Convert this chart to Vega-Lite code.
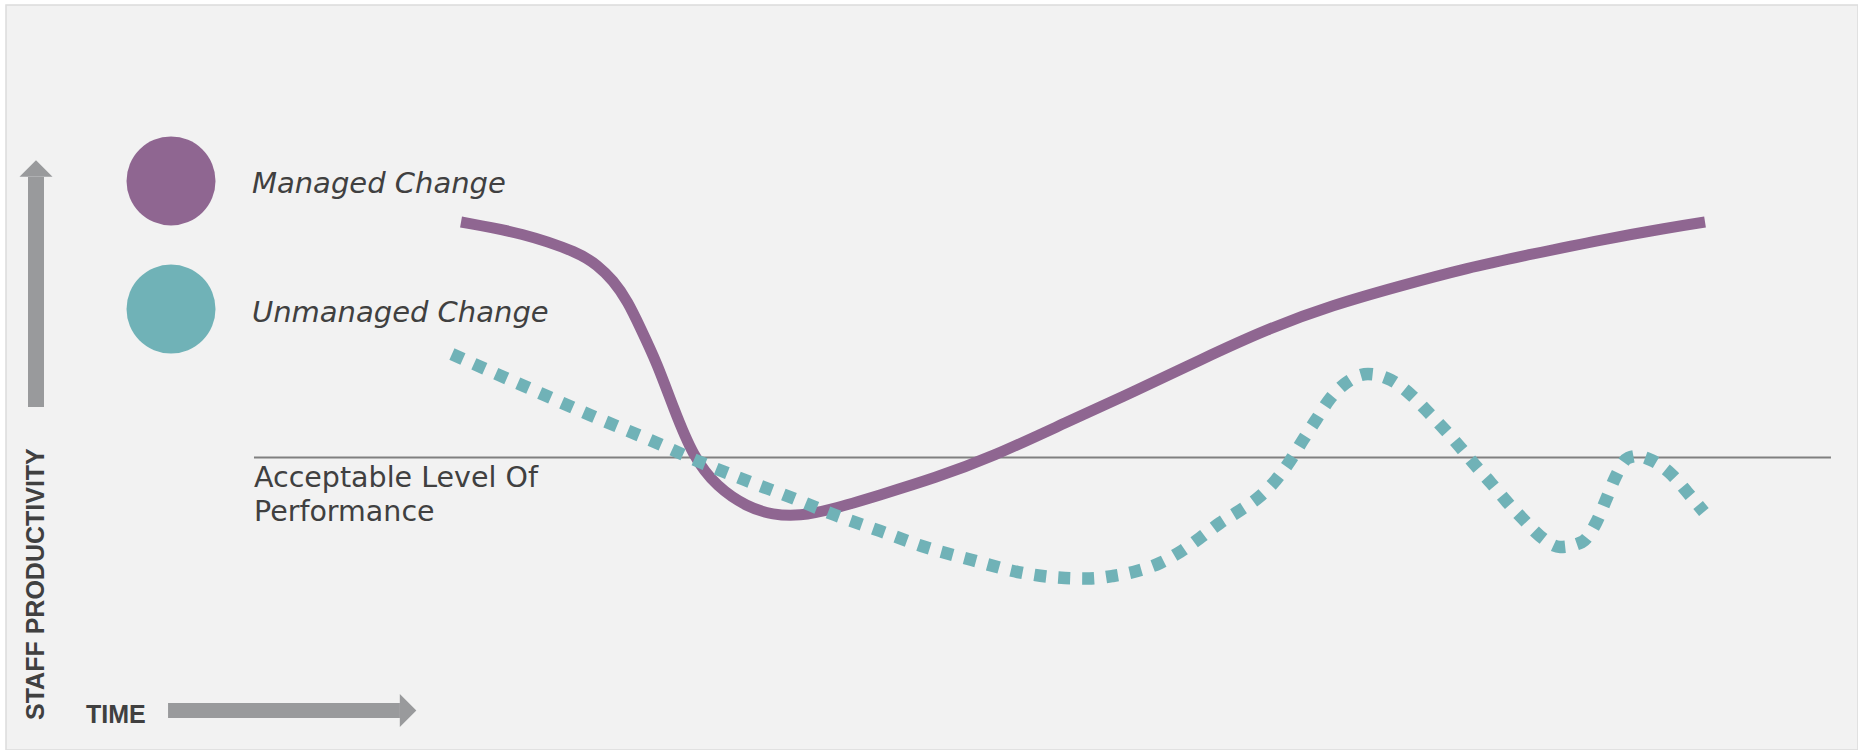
{
  "$schema": "https://vega.github.io/schema/vega-lite/v6.json",
  "width": 1858,
  "height": 750,
  "autosize": {"type": "fit", "contains": "padding"},
  "padding": {"left": 6, "top": 5, "right": 0, "bottom": 0},
  "background": "#ffffff",
  "config": {"view": {"fill": "#f2f2f2", "stroke": "#dcdcdc", "strokeWidth": 1.5}},
  "datasets": {
    "managed": [
      {"t": 24.57, "p": 70.87}, {"t": 27.92, "p": 69.40}, {"t": 30.99, "p": 66.71}, {"t": 31.91, "p": 65.10},
      {"t": 32.78, "p": 63.09}, {"t": 33.59, "p": 60.13}, {"t": 34.23, "p": 56.78}, {"t": 35.15, "p": 51.95},
      {"t": 36.02, "p": 46.04}, {"t": 37.10, "p": 39.33}, {"t": 38.39, "p": 35.30}, {"t": 40.01, "p": 32.62},
      {"t": 41.41, "p": 31.54}, {"t": 42.87, "p": 31.41}, {"t": 44.49, "p": 32.21}, {"t": 47.19, "p": 34.23},
      {"t": 50.16, "p": 36.51}, {"t": 53.24, "p": 39.33}, {"t": 57.29, "p": 44.03}, {"t": 60.85, "p": 48.05},
      {"t": 64.47, "p": 52.35}, {"t": 68.09, "p": 56.51}, {"t": 71.65, "p": 59.73}, {"t": 75.27, "p": 62.28},
      {"t": 78.89, "p": 64.70}, {"t": 82.45, "p": 66.58}, {"t": 86.07, "p": 68.46}, {"t": 89.69, "p": 70.07},
      {"t": 91.74, "p": 70.87}
    ],
    "unmanaged": [
      {"t": 24.08, "p": 53.15}, {"t": 26.13, "p": 50.87}, {"t": 27.97, "p": 48.86}, {"t": 31.53, "p": 44.97},
      {"t": 35.15, "p": 41.21}, {"t": 37.47, "p": 38.66}, {"t": 39.90, "p": 36.24}, {"t": 42.33, "p": 33.96},
      {"t": 44.76, "p": 31.54}, {"t": 47.19, "p": 29.40}, {"t": 49.62, "p": 27.25}, {"t": 52.16, "p": 25.50},
      {"t": 54.64, "p": 23.89}, {"t": 57.18, "p": 23.09}, {"t": 58.48, "p": 23.02}, {"t": 59.77, "p": 23.36},
      {"t": 61.07, "p": 24.03}, {"t": 62.31, "p": 25.10}, {"t": 63.39, "p": 26.58}, {"t": 64.47, "p": 28.46},
      {"t": 65.55, "p": 30.47}, {"t": 66.58, "p": 32.08}, {"t": 67.66, "p": 33.96}, {"t": 68.57, "p": 36.24},
      {"t": 69.33, "p": 38.79}, {"t": 70.03, "p": 41.61}, {"t": 70.73, "p": 44.30}, {"t": 71.44, "p": 46.98},
      {"t": 72.35, "p": 49.26}, {"t": 73.54, "p": 50.47}, {"t": 74.78, "p": 49.66}, {"t": 75.81, "p": 47.79},
      {"t": 76.73, "p": 45.50}, {"t": 77.65, "p": 43.09}, {"t": 78.51, "p": 40.67}, {"t": 79.32, "p": 38.26},
      {"t": 80.18, "p": 35.84}, {"t": 81.05, "p": 33.29}, {"t": 81.91, "p": 31.01}, {"t": 82.83, "p": 28.72},
      {"t": 83.91, "p": 27.25}, {"t": 85.10, "p": 27.92}, {"t": 85.85, "p": 30.47}, {"t": 86.39, "p": 33.56},
      {"t": 86.88, "p": 36.51}, {"t": 87.58, "p": 39.19}, {"t": 88.12, "p": 39.46}, {"t": 88.82, "p": 38.93},
      {"t": 89.96, "p": 36.91}, {"t": 90.77, "p": 34.63}, {"t": 91.68, "p": 31.95}
    ],
    "threshold": [{"t": 13.39, "t2": 98.54, "p": 39.26}],
    "legend": [
      {"series": "Managed Change", "t": 8.91, "p": 76.38, "lt": 13.28, "lp": 74.77},
      {"series": "Unmanaged Change", "t": 8.91, "p": 59.19, "lt": 13.28, "lp": 57.45}
    ],
    "threshold_label": [
      {"text": "Acceptable Level Of", "t": 13.39, "p": 35.30},
      {"text": "Performance", "t": 13.39, "p": 30.74}
    ],
    "axis_titles": [
      {"text": "STAFF PRODUCTIVITY", "t": 2.05, "p": 4.03, "angle": 270},
      {"text": "TIME", "t": 4.32, "p": 3.62, "angle": 0}
    ],
    "vshaft": [{"t": 1.62, "p": 46.04, "p2": 76.91}],
    "hshaft": [{"t": 8.75, "t2": 21.27, "p": 5.30}],
    "vhead": [{"t": 1.62, "p": 78.05}],
    "hhead": [{"t": 21.71, "p": 5.30}]
  },
  "layer": [
    {
      "data": {"name": "threshold"},
      "mark": {"type": "rule", "color": "#808080", "strokeWidth": 2.2},
      "encoding": {
        "x": {"field": "t", "type": "quantitative", "scale": {"domain": [0, 100], "nice": false, "zero": false}, "axis": null},
        "x2": {"field": "t2"},
        "y": {"field": "p", "type": "quantitative", "scale": {"domain": [0, 100], "nice": false, "zero": false}, "axis": null}
      }
    },
    {
      "data": {"name": "managed"},
      "mark": {"type": "line", "color": "#8f6691", "strokeWidth": 11, "interpolate": "basis", "strokeCap": "butt"},
      "encoding": {
        "x": {"field": "t", "type": "quantitative"},
        "y": {"field": "p", "type": "quantitative"}
      }
    },
    {
      "data": {"name": "unmanaged"},
      "mark": {"type": "line", "color": "#70b2b7", "strokeWidth": 12.5, "interpolate": "monotone", "strokeDash": [12, 12], "strokeCap": "butt"},
      "encoding": {
        "x": {"field": "t", "type": "quantitative"},
        "y": {"field": "p", "type": "quantitative"}
      }
    },
    {
      "data": {"name": "legend"},
      "mark": {"type": "point", "filled": true, "size": 7921, "opacity": 1, "shape": "circle"},
      "encoding": {
        "x": {"field": "t", "type": "quantitative"},
        "y": {"field": "p", "type": "quantitative"},
        "color": {"field": "series", "type": "nominal", "scale": {"domain": ["Managed Change", "Unmanaged Change"], "range": ["#8f6691", "#70b2b7"]}, "legend": null}
      }
    },
    {
      "data": {"name": "legend"},
      "mark": {"type": "text", "font": "DejaVu Sans", "fontSize": 29, "fontStyle": "italic", "color": "#404040", "align": "left", "baseline": "alphabetic"},
      "encoding": {
        "x": {"field": "lt", "type": "quantitative"},
        "y": {"field": "lp", "type": "quantitative"},
        "text": {"field": "series"}
      }
    },
    {
      "data": {"name": "threshold_label"},
      "mark": {"type": "text", "font": "DejaVu Sans", "fontSize": 28.5, "color": "#404040", "align": "left", "baseline": "alphabetic"},
      "encoding": {
        "x": {"field": "t", "type": "quantitative"},
        "y": {"field": "p", "type": "quantitative"},
        "text": {"field": "text"}
      }
    },
    {
      "data": {"name": "axis_titles"},
      "mark": {"type": "text", "font": "Liberation Sans", "fontSize": 25, "fontWeight": "bold", "color": "#404040", "align": "left", "baseline": "alphabetic"},
      "encoding": {
        "x": {"field": "t", "type": "quantitative"},
        "y": {"field": "p", "type": "quantitative"},
        "text": {"field": "text"},
        "angle": {"field": "angle", "type": "quantitative", "scale": null}
      }
    },
    {
      "data": {"name": "vshaft"},
      "mark": {"type": "rule", "color": "#999a9c", "strokeWidth": 16, "strokeCap": "butt"},
      "encoding": {
        "x": {"field": "t", "type": "quantitative"},
        "y": {"field": "p", "type": "quantitative"},
        "y2": {"field": "p2"}
      }
    },
    {
      "data": {"name": "hshaft"},
      "mark": {"type": "rule", "color": "#999a9c", "strokeWidth": 15, "strokeCap": "butt"},
      "encoding": {
        "x": {"field": "t", "type": "quantitative"},
        "x2": {"field": "t2"},
        "y": {"field": "p", "type": "quantitative"}
      }
    },
    {
      "data": {"name": "vhead"},
      "mark": {"type": "point", "filled": true, "opacity": 1, "color": "#999a9c", "size": 1089, "shape": "M-1,0.5L1,0.5L0,-0.5Z"},
      "encoding": {
        "x": {"field": "t", "type": "quantitative"},
        "y": {"field": "p", "type": "quantitative"}
      }
    },
    {
      "data": {"name": "hhead"},
      "mark": {"type": "point", "filled": true, "opacity": 1, "color": "#999a9c", "size": 1089, "shape": "M-0.5,-1L0.5,0L-0.5,1Z"},
      "encoding": {
        "x": {"field": "t", "type": "quantitative"},
        "y": {"field": "p", "type": "quantitative"}
      }
    }
  ]
}
